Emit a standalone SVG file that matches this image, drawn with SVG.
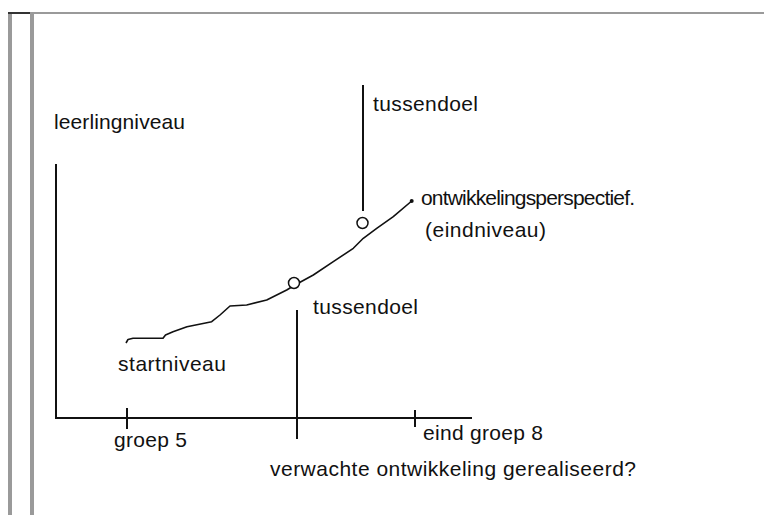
<svg xmlns="http://www.w3.org/2000/svg" width="764" height="515" viewBox="0 0 764 515">
<style>
.t{font-family:"Liberation Sans",Arial,sans-serif;font-size:21px;fill:#111}
.ax{stroke:#111;stroke-width:2;fill:none}
.cv{stroke:#111;stroke-width:1.6;fill:none;stroke-linejoin:round}
.ring{stroke:#111;stroke-width:1.5;fill:#fff}
.frame{fill:#9a9a9a}
</style>
<rect width="764" height="515" fill="#fff"/>
<g id="frame">
<rect class="frame" x="8" y="12" width="4" height="503"/>
<rect class="frame" x="30" y="12" width="4" height="503"/>
<rect class="frame" x="30" y="12" width="734" height="2"/>
<rect x="8" y="12" width="22" height="2" fill="#333"/>
</g>
<g id="connectors">
<path class="ax" d="M56,164 V418 H472"/>
<path class="ax" d="M127,408 V429"/>
<path class="ax" d="M415,410 V427"/>
<path class="ax" d="M297,310 V439"/>
<path class="ax" d="M363,85 V211"/>
<path class="cv" d="M126,343 L128,339.5 L133,338.3 L163,338.3 L165.5,335 L173,331.7 L187,326.7 L211.7,321.7 L220,315 L230,306 L246.7,305 L266.7,300 L286.7,290 L295,285 L313.3,275 L333.3,261.7 L353.3,248.3 L363.3,238.3 L376.7,228.3 L393.3,216.7 L411.7,201"/>
</g>
<g id="leerlingniveau"><text class="t" x="54" y="129" textLength="131">leerlingniveau</text></g>
<g id="startniveau"><text class="t" x="118" y="371" textLength="108">startniveau</text></g>
<g id="tussendoel-1">
<circle class="ring" cx="294" cy="283" r="5.5"/>
<text class="t" x="313" y="314" textLength="105">tussendoel</text>
</g>
<g id="tussendoel-2">
<circle class="ring" cx="362.5" cy="223" r="5.5"/>
<text class="t" x="373" y="111" textLength="105">tussendoel</text>
</g>
<g id="eindniveau">
<circle cx="411.7" cy="201" r="2" fill="#111"/>
<text class="t" x="421" y="205" textLength="214">ontwikkelingsperspectief.</text>
<text class="t" x="425" y="237" textLength="121">(eindniveau)</text>
</g>
<g id="groep5"><text class="t" x="114" y="447" textLength="73">groep 5</text></g>
<g id="eindgroep8"><text class="t" x="423" y="440" textLength="120">eind groep 8</text></g>
<g id="vraag"><text class="t" x="270" y="476" textLength="366">verwachte ontwikkeling gerealiseerd?</text></g>
</svg>
